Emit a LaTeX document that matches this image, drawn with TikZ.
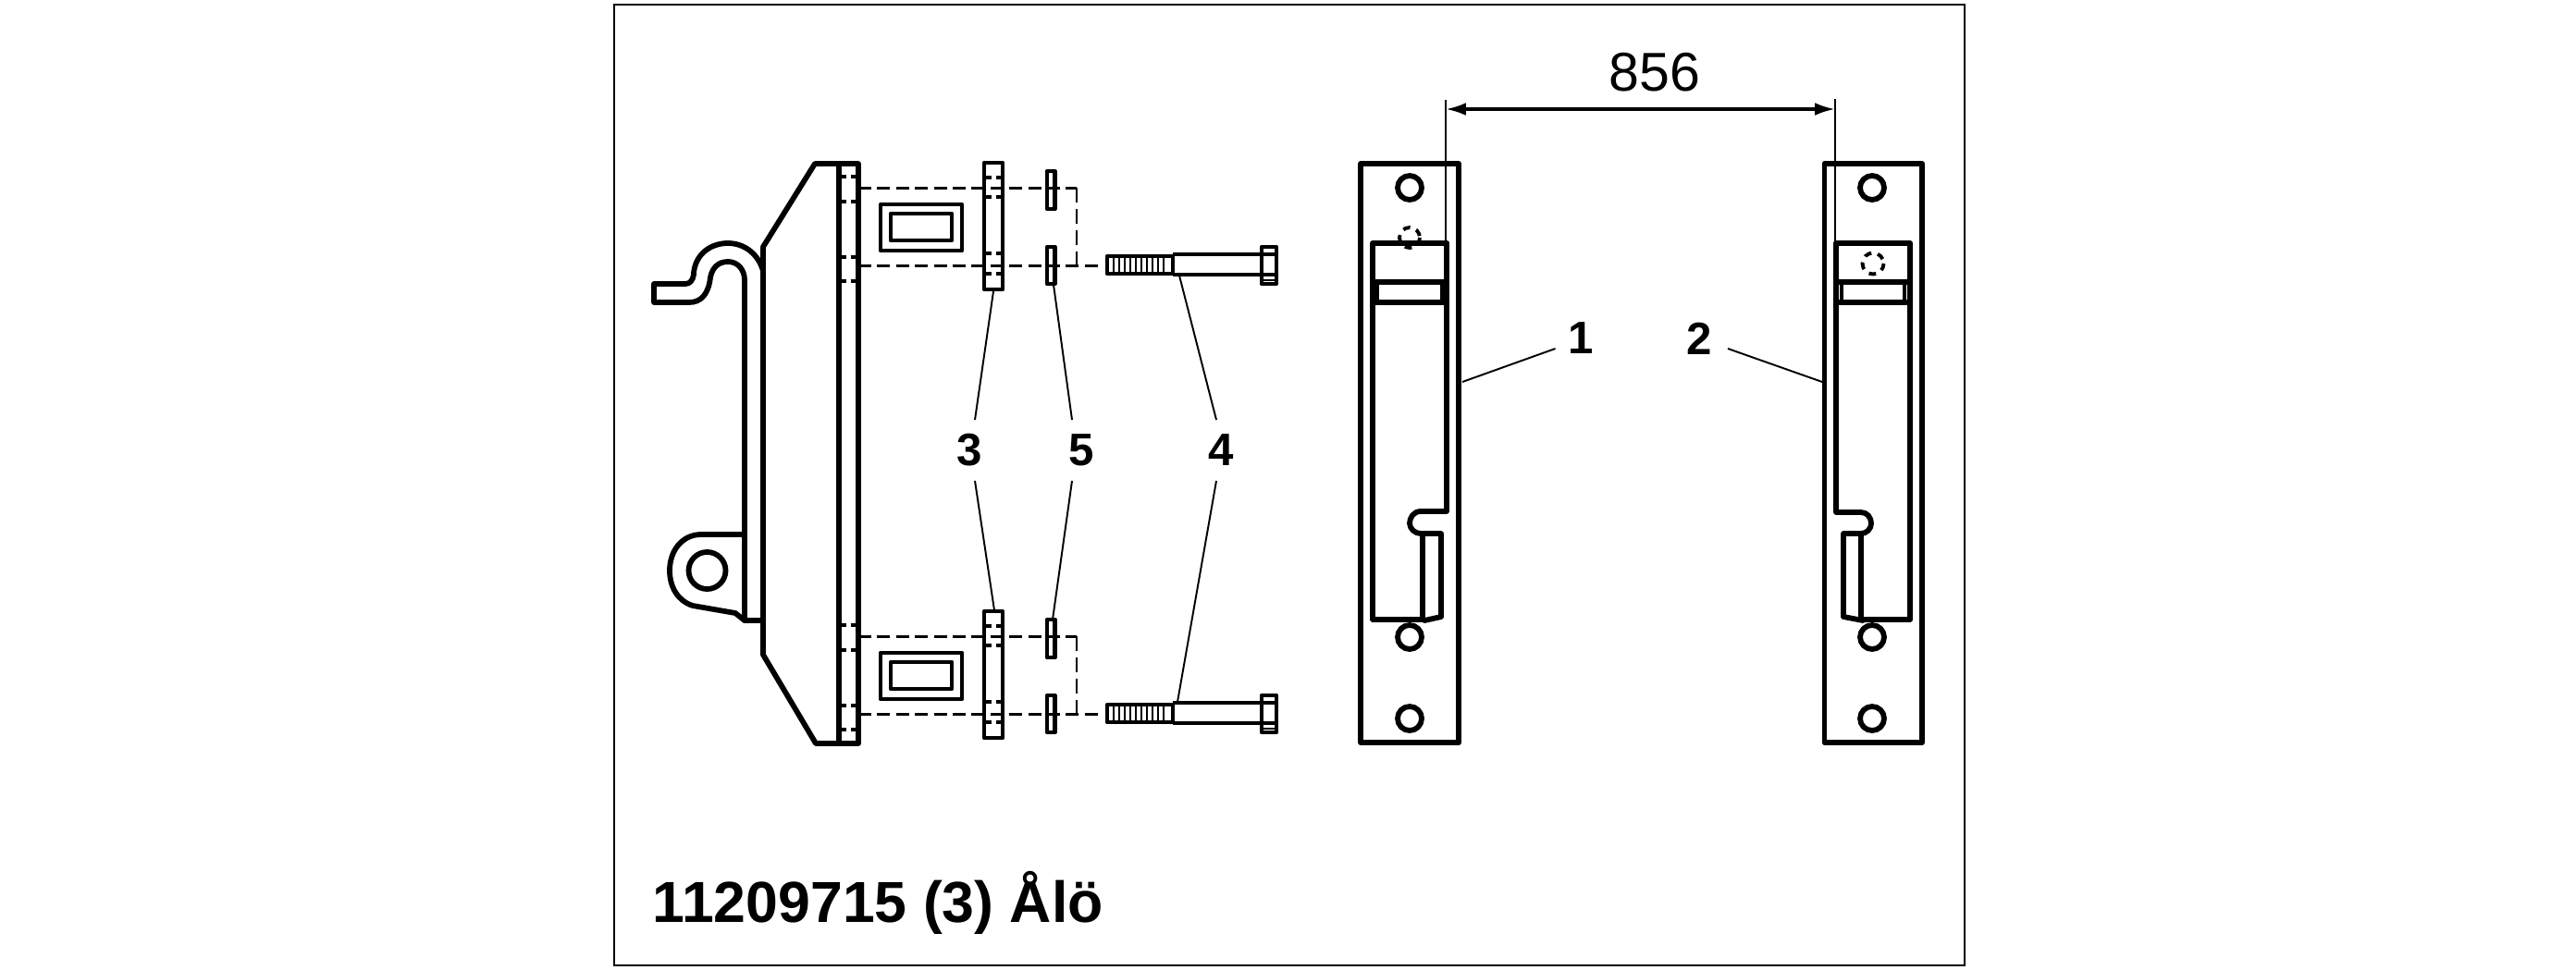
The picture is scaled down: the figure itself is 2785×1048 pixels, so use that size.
\documentclass[tikz,border=0pt]{standalone}
\usepackage{fontspec}
\setmainfont{Liberation Sans}
\usetikzlibrary{arrows.meta}
\tikzset{
	part/.style={line width=1.65pt, line join=round, line cap=round},
	partthin/.style={line width=1.3pt, line join=round},
	leader/.style={line width=0.55pt},
	hidden/.style={line width=1.3pt, dash pattern=on 1.6pt off 1.4pt},
	hiddenround/.style={line width=1.1pt, dash pattern=on 2.2pt off 2pt},
	centre/.style={line width=0.85pt, dash pattern=on 4pt off 1.8pt},
	callout/.style={font=\bfseries\fontsize{14}{14}\selectfont, inner sep=0pt},
}
\begin{document}
\begin{tikzpicture}[x=0.01cm, y=-0.01cm, >={Latex[length=6.2pt,width=3.9pt]}]
\useasboundingbox (0,0) rectangle (2785,1048);
\draw[line width=0.6pt] (664,5) rectangle (2124,1044);

%========================
% Left: bracket side view
%========================
\draw[part] (825,708) -- (825,267) -- (881,177) -- (928,177) -- (928,804) -- (882,804) -- cycle;
\draw[part] (907,177) -- (907,804);
% hook
\draw[part] (825,293) .. controls (820,275) and (805,263) .. (787,263)
	.. controls (768,263) and (752,275) .. (750,295) -- (750,297)
	.. controls (749,303) and (746,307) .. (741,307) -- (707,307) -- (707,327) -- (745,327)
	.. controls (758,327) and (766,318) .. (768,300)
	.. controls (770,290) and (776,283) .. (787,283)
	.. controls (798,283) and (805,292) .. (805,303) -- (805,671) -- (825,671);
% lug
\draw[part] (805,578) -- (758,578) .. controls (738,578) and (724,595) .. (724,617)
	.. controls (724,635) and (733,650) .. (749,655) -- (795,663) -- (805,671);
\draw[part] (764.5,617) circle (20);

% upper and lower fixing
\foreach \yy in {0,485} {
\begin{scope}[yshift=-\yy*0.01cm]
% holes in the plate
\foreach \y in {191,218,278,304} \draw[hidden] (909,\y) -- (928,\y);
% window
\draw[partthin] (952,221) rectangle (1040,271);
\draw[partthin] (963,231) rectangle (1029,260);
% spacer
\draw[partthin] (1064,176) rectangle (1084,313);
\foreach \y in {192,213,274,296} \draw[hidden] (1066,\y) -- (1084,\y);
% washers
\draw[partthin] (1132,185) rectangle (1140.5,226);
\draw[partthin] (1132,267) rectangle (1140.5,307);
% centre lines
\draw[centre] (928,203) -- (1164,203);
\draw[centre] (928,287) -- (1193,287);
\draw[line width=0.5pt, dash pattern=on 4.5pt off 2pt] (1164,203) -- (1164,287);
% bolt
\draw[partthin] (1197,277) rectangle (1268,296);
\foreach \x in {1204,1210,...,1262} \draw[line width=0.7pt] (\x,277) -- (\x,296);
\draw[partthin] (1268,275) -- (1364,275);
\draw[partthin] (1268,297) -- (1364,297);
\draw[partthin] (1268,275) -- (1268,297);
\draw[partthin] (1364,267) rectangle (1380,307);
\draw[partthin] (1364,275) -- (1380,275);
\draw[partthin] (1364,297) -- (1380,297);
\draw[line width=0.4pt] (1366,303) -- (1378,303);
\end{scope}
}

% callouts
\node[callout] (three) at (1048,487) {3};
\node[callout] (five) at (1169,487) {5};
\node[callout] (four) at (1320,487) {4};
\coordinate (threeup) at (1074,315);
\coordinate (threelow) at (1075,660);
\coordinate (fiveup) at (1139,308);
\coordinate (fivelow) at (1138,670);
\coordinate (fourup) at (1275,298);
\coordinate (fourlow) at (1273,759);
\draw[leader] (1054,454) -- (threeup);
\draw[leader] (1054,520) -- (threelow);
\draw[leader] (1159,454) -- (fiveup);
\draw[leader] (1159,520) -- (fivelow);
\draw[leader] (1315,454) -- (fourup);
\draw[leader] (1315,520) -- (fourlow);

%========================
% Right: the two rails
%========================
% rail 1
\draw[part] (1471,177) rectangle (1577,803);
\foreach \y in {203,689,777} \draw[part] (1524,\y) circle (13);
\draw[part] (1564,306) -- (1564,263) -- (1484,263) -- (1484,670) -- (1538,670);
\draw[part] (1564,263) -- (1564,553) -- (1536,553) .. controls (1528,553) and (1524,560) .. (1524,566)
	.. controls (1524,572) and (1530,577) .. (1536,577) -- (1558,577) -- (1558,667) -- (1540,671);
\draw[part] (1538,577) -- (1538,670);
\draw[part] (1484,305) -- (1564,305);
\draw[part] (1484,327) -- (1564,327);
\draw[partthin] (1489,306) rectangle (1559,327);
\draw[hiddenround] (1524,257) circle (11);

% rail 2
\draw[part] (1972.5,177) rectangle (2078,803);
\foreach \y in {203,689,777} \draw[part] (2024,\y) circle (13);
\draw[part] (1985,263) -- (2065,263) -- (2065,670) -- (2015,670);
\draw[part] (1985,263) -- (1985,554) -- (2012,554) .. controls (2019,554) and (2023,560) .. (2023,566)
	.. controls (2023,572) and (2018,577) .. (2012,577) -- (1993,577) -- (1993,667) -- (2014,671);
\draw[part] (2012,577) -- (2012,670);
\draw[part] (1985,305) -- (2065,305);
\draw[part] (1985,327) -- (2065,327);
\draw[partthin] (1991,306) rectangle (2059,327);
\draw[hiddenround] (2025,285) circle (11.5);

% dimension
\coordinate (dimleft) at (1563,118);
\coordinate (dimright) at (1984,118);
\draw[line width=0.6pt] (1563,108) -- (1563,262);
\draw[line width=0.6pt] (1984,107) -- (1984,261);
\draw[<->, line width=0.95pt] (dimleft) -- (dimright);
\node[font=\fontsize{16.8}{17}\selectfont, inner sep=0pt] (dimlabel) at (1789,78) {856};

\node[callout] (one) at (1709,366) {1};
\node[callout] (two) at (1837,366) {2};
\coordinate (railone) at (1581,413);
\coordinate (railtwo) at (1970,413);
\draw[leader] (1681.5,377) -- (railone);
\draw[leader] (1868,377) -- (railtwo);

\node[font=\bfseries\fontsize{17.8}{18}\selectfont, inner sep=0pt, anchor=base west] (title) at (705,997) {11209715 (3) Ålö};
\end{tikzpicture}
\end{document}
